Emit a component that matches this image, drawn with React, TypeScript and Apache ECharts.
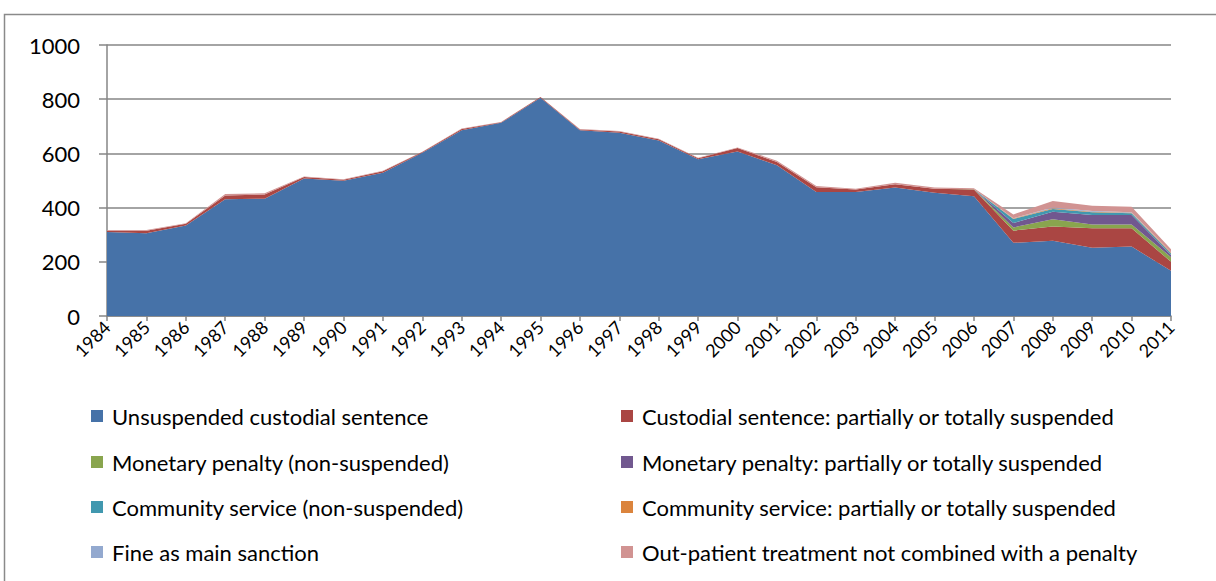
import React, { useEffect, useRef } from "react";
import * as echarts from "echarts";

const years = ["1984","1985","1986","1987","1988","1989","1990","1991","1992","1993","1994","1995","1996","1997","1998","1999","2000","2001","2002","2003","2004","2005","2006","2007","2008","2009","2010","2011"];

const unsuspendedCustodial = [310,305,334,431,433,507,499,529,602,685,713,805,685,676,648,578,607,556,458,458,474,455,442,270,278,252,256,167];
const custodialSuspended = [5,10,6,14,15,6,4,5,3,5,2,3,3,5,4,4,13,12,17,9,12,15,25,45,52,72,68,33];
const monetaryNonSuspended = [0,0,0,0,0,0,0,0,0,0,0,0,0,0,0,0,0,0,0,0,0,0,1,12,27,14,14,17];
const monetarySuspended = [0,0,0,0,0,0,0,0,0,0,0,0,0,0,0,0,0,0,0,0,0,0,0,16,28,35,35,8];
const communityNonSuspended = [0,0,0,0,0,0,0,0,0,0,0,0,0,0,0,0,0,0,0,0,0,0,0,15,10,10,6,6];
const communitySuspended = [0,0,0,0,0,0,0,0,0,0,0,0,0,0,0,0,0,0,0,0,0,0,0,2,3,2,2,2];
const fineMain = [0,0,0,0,0,0,0,0,0,0,0,0,0,0,0,0,0,0,0,0,0,0,0,1,2,2,2,1];
const outPatient = [2,2,2,5,5,2,2,2,1,2,1,0,2,2,2,2,2,5,5,3,6,4,3,14,24,20,20,12];

const seriesNames = [
  "Unsuspended custodial sentence",
  "Custodial sentence: partially or totally suspended",
  "Monetary penalty (non-suspended)",
  "Monetary penalty: partially or totally suspended",
  "Community service (non-suspended)",
  "Community service: partially or totally suspended",
  "Fine as main sanction",
  "Out-patient treatment not combined with a penalty",
];
const seriesData = [
  unsuspendedCustodial, custodialSuspended, monetaryNonSuspended, monetarySuspended,
  communityNonSuspended, communitySuspended, fineMain, outPatient,
];
const colors = ["#4672A8", "#AA4643", "#89A54E", "#71588F", "#4198AF", "#DB843D", "#93A9CF", "#D19392"];

const yTicks = [0, 200, 400, 600, 800, 1000];

const FONT = "Lato, 'Liberation Sans', sans-serif";

export default function App() {
  const ref = useRef<HTMLDivElement>(null);
  useEffect(() => {
    if (!ref.current) return;
    const chart = echarts.init(ref.current, null, { renderer: "svg" });
    const rowTops = [405, 451, 496, 541];
    const colLefts = [91, 621];
    const legends = seriesNames.map((name, i) => ({
      data: [name],
      left: colLefts[i % 2],
      top: rowTops[Math.floor(i / 2)],
      icon: "rect",
      itemWidth: 12,
      itemHeight: 12,
      selectedMode: false,
      padding: 0,
      textStyle: { fontSize: 22, color: "#000", fontFamily: FONT, padding: [0, 0, 0, 4] },
    }));
    chart.setOption({
      animation: false,
      color: colors,
      textStyle: { fontFamily: FONT },
      graphic: [
        {
          type: "rect",
          shape: { x: 4.5, y: 14.5, width: 1400, height: 800 },
          style: { fill: "none", stroke: "#8a8a8a", lineWidth: 1.5 },
          silent: true,
        },
      ],
      legend: legends,
      grid: { left: 107, right: 45, top: 45, bottom: 265, containLabel: false },
      xAxis: {
        type: "category",
        data: years,
        boundaryGap: false,
        axisLine: { lineStyle: { color: "#868686", width: 1.5 } },
        axisTick: { show: true, length: 5, lineStyle: { color: "#868686", width: 1.5 } },
        axisLabel: { rotate: 45, fontSize: 18, color: "#000", margin: 8, fontFamily: FONT, interval: 0 },
        splitLine: { show: false },
      },
      yAxis: {
        type: "value",
        min: yTicks[0],
        max: yTicks[yTicks.length - 1],
        interval: 200,
        axisLine: { show: true, lineStyle: { color: "#868686", width: 1.5 } },
        axisTick: { show: true, length: 8, lineStyle: { color: "#868686", width: 1.5 } },
        axisLabel: { fontSize: 22, color: "#000", margin: 27, fontFamily: FONT, formatter: (v: number) => String(v) },
        splitLine: { show: true, lineStyle: { color: "#868686", width: 1.5 } },
      },
      series: seriesNames.map((name, i) => ({
        name,
        type: "line",
        stack: "total",
        data: seriesData[i],
        symbol: "none",
        lineStyle: { width: 0 },
        areaStyle: { color: colors[i], opacity: 1 },
        itemStyle: { color: colors[i] },
        z: 2,
      })),
    });
    return () => chart.dispose();
  }, []);
  return (
    <div
      ref={ref}
      style={{ position: "fixed", left: 0, top: 0, width: 1216, height: 581, background: "#fff" }}
    />
  );
}
